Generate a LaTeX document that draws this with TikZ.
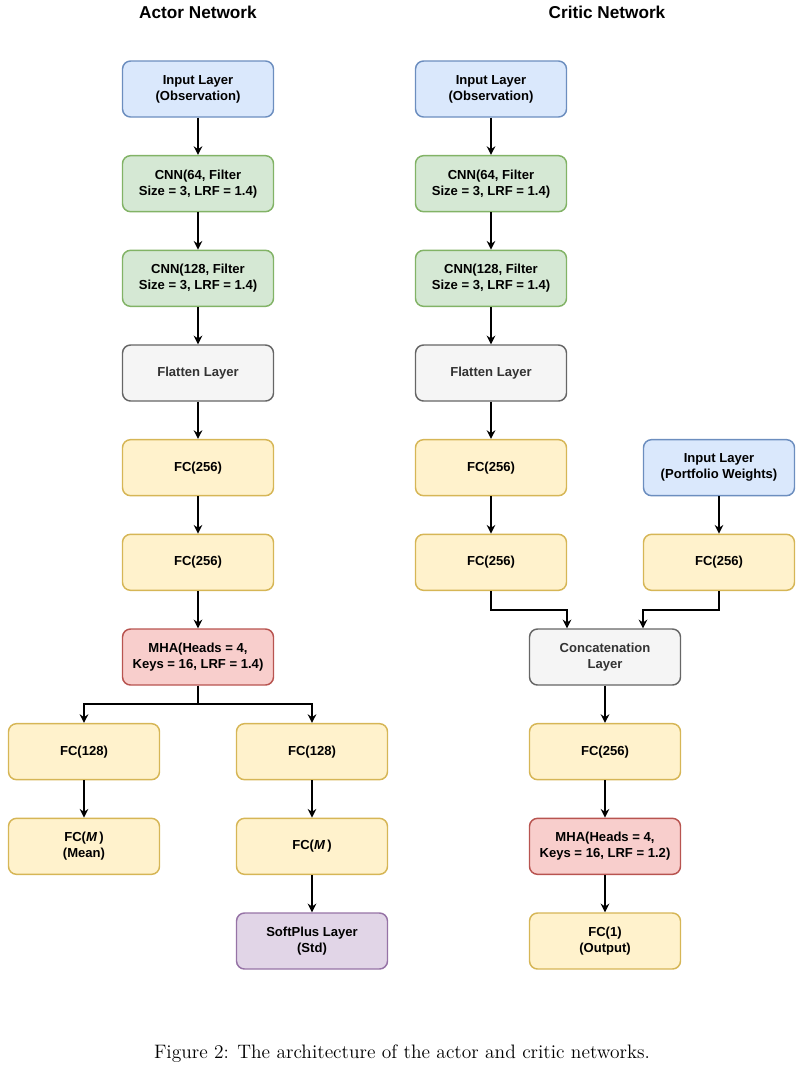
\documentclass[tikz,border=0pt]{standalone}
\usepackage{fontspec}
\usepackage{tikz}
\usetikzlibrary{arrows.meta, positioning}
\newfontfamily\boxfont{Liberation Sans}
\definecolor{inpfill}{HTML}{DAE8FC}
\definecolor{inpline}{HTML}{6C8EBF}
\definecolor{cnnfill}{HTML}{D5E8D4}
\definecolor{cnnline}{HTML}{82B366}
\definecolor{flatfill}{HTML}{F5F5F5}
\definecolor{flatline}{HTML}{666666}
\definecolor{flattext}{HTML}{333333}
\definecolor{fcfill}{HTML}{FFF2CC}
\definecolor{fcline}{HTML}{D6B656}
\definecolor{mhafill}{HTML}{F8CECC}
\definecolor{mhaline}{HTML}{B85450}
\definecolor{softfill}{HTML}{E1D5E7}
\definecolor{softline}{HTML}{9673A6}

\begin{document}
\begin{tikzpicture}[node distance={71pt},
		layer/.style = {draw, rounded corners=6pt, line width=1.1pt, minimum width=113.25pt, minimum height=42pt, align=center, font=\boxfont\bfseries\fontsize{9.8}{12}\selectfont},
		inp/.style = {layer, fill=inpfill, draw=inpline},
		cnn/.style = {layer, fill=cnnfill, draw=cnnline},
		flat/.style = {layer, fill=flatfill, draw=flatline, text=flattext},
		fc/.style = {layer, fill=fcfill, draw=fcline},
		mha/.style = {layer, fill=mhafill, draw=mhaline},
		soft/.style = {layer, fill=softfill, draw=softline},
		title/.style = {font=\boxfont\bfseries\fontsize{12.9}{15}\selectfont},
		arrow/.style = {-{Stealth[length=6.5pt, width=6.5pt]}, line width=1.2pt}]
		\useasboundingbox (0,0) rectangle (602.25pt,-803.25pt);
		\node[title] (ta) at (148.5pt,-9pt) {Actor Network};
		\node[title] (tc) at (455.25pt,-9pt) {Critic Network};
		\node[inp] (a1) at (148.5pt,-66.75pt) {Input Layer\\(Observation)};
		\node[cnn] (a2) [below of=a1] {CNN(64, Filter\\Size = 3, LRF = 1.4)};
		\node[cnn] (a3) [below of=a2] {CNN(128, Filter\\Size = 3, LRF = 1.4)};
		\node[flat] (a4) [below of=a3] {Flatten Layer};
		\node[fc] (a5) [below of=a4] {FC(256)};
		\node[fc] (a6) [below of=a5] {FC(256)};
		\node[mha] (a7) [below of=a6] {MHA(Heads = 4,\\Keys = 16, LRF = 1.4)};
		\node[fc] (a8) [below of=a7, xshift=-85.5pt] {FC(128)};
		\node[fc] (a9) [below of=a7, xshift=85.5pt] {FC(128)};
		\node[fc] (a10) [below of=a8] {FC(\textit{M}\,)\\(Mean)};
		\node[fc] (a11) [below of=a9] {FC(\textit{M}\,)};
		\node[soft] (a12) [below of=a11] {SoftPlus Layer\\(Std)};
		\node[inp] (c1) at (368.25pt,-66.75pt) {Input Layer\\(Observation)};
		\node[cnn] (c2) [below of=c1] {CNN(64, Filter\\Size = 3, LRF = 1.4)};
		\node[cnn] (c3) [below of=c2] {CNN(128, Filter\\Size = 3, LRF = 1.4)};
		\node[flat] (c4) [below of=c3] {Flatten Layer};
		\node[fc] (c5) [below of=c4] {FC(256)};
		\node[fc] (c6) [below of=c5] {FC(256)};
		\node[inp] (c7) [right of=c5, node distance=171pt] {Input Layer\\(Portfolio Weights)};
		\node[fc] (c8) [below of=c7] {FC(256)};
		\node[flat] (c9) [below of=c6, xshift=85.5pt] {Concatenation\\Layer};
		\node[fc] (c10) [below of=c9] {FC(256)};
		\node[mha] (c11) [below of=c10] {MHA(Heads = 4,\\Keys = 16, LRF = 1.2)};
		\node[fc] (c12) [below of=c11] {FC(1)\\(Output)};
		\node[font=\fontsize{14.6}{17}\selectfont] (cap) at (301.5pt,-790pt) {Figure 2: The architecture of the actor and critic networks.};
		\draw[arrow] (a1) -- (a2);
		\draw[arrow] (a2) -- (a3);
		\draw[arrow] (a3) -- (a4);
		\draw[arrow] (a4) -- (a5);
		\draw[arrow] (a5) -- (a6);
		\draw[arrow] (a6) -- (a7);
		\draw[arrow] (a7.south) -- ++(0,-13.5pt) -| (a8.north);
		\draw[arrow] (a7.south) -- ++(0,-13.5pt) -| (a9.north);
		\draw[arrow] (a8) -- (a10);
		\draw[arrow] (a9) -- (a11);
		\draw[arrow] (a11) -- (a12);
		\draw[arrow] (c1) -- (c2);
		\draw[arrow] (c2) -- (c3);
		\draw[arrow] (c3) -- (c4);
		\draw[arrow] (c4) -- (c5);
		\draw[arrow] (c5) -- (c6);
		\draw[arrow] (c7) -- (c8);
		\draw[arrow] (c6.south) -- ++(0,-14.25pt) -| ([xshift=-28.5pt]c9.north);
		\draw[arrow] (c8.south) -- ++(0,-14.25pt) -| ([xshift=28.5pt]c9.north);
		\draw[arrow] (c9) -- (c10);
		\draw[arrow] (c10) -- (c11);
		\draw[arrow] (c11) -- (c12);
	\end{tikzpicture}
\end{document}
